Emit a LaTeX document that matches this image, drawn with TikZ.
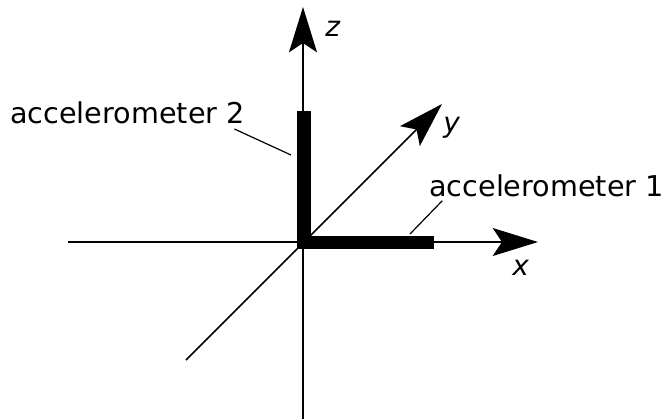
\documentclass[tikz,border=0pt]{standalone}
\usepackage{fontspec}
\setmainfont{DejaVu Sans}
\usetikzlibrary{arrows.meta}

\tikzset{
    axis/.style={line width=1.5pt, -{Stealth[length=34pt, width=21pt, inset=7pt]}},
    leader/.style={line width=0.9pt},
    label/.style={font=\fontsize{21.5}{25}\selectfont, inner sep=0pt},
    axislabel/.style={font=\fontsize{21}{24}\selectfont\itshape, inner sep=0pt}
}

\begin{document}
\begin{tikzpicture}[x=0.75pt, y=0.75pt]
    \useasboundingbox (-303,-177) rectangle (362,242);
    % axes
    \coordinate (o) at (0,0);
    \draw[axis] (-235,0) -- (235,0);
    \draw[axis] (0,-177) -- (0,235);
    \draw[axis, line width=1.1pt] (-117,-118) -- (139,138);
    \node[axislabel, anchor=base west] (xlab) at (209,-33) {x};
    \node[axislabel, anchor=base west] (ylab) at (140,110) {y};
    \node[axislabel, anchor=base west] (zlab) at (22,206) {z};
    % accelerometers
    \fill (-6,-7) rectangle (8,131);
    \fill (0,-7) rectangle (131,6);
    \node[label, anchor=base west] (acc2) at (-293,119) {accelerometer 2};
    \node[label, anchor=base west] (acc1) at (126,46) {accelerometer 1};
    \coordinate (bar2) at (-12,87);
    \coordinate (bar1) at (107,8);
    \draw[leader] ([xshift=-8pt,yshift=-4pt]acc2.south east) -- (bar2);
    \draw[leader] ([xshift=10pt,yshift=-3pt]acc1.south west) -- (bar1);
\end{tikzpicture}
\end{document}
